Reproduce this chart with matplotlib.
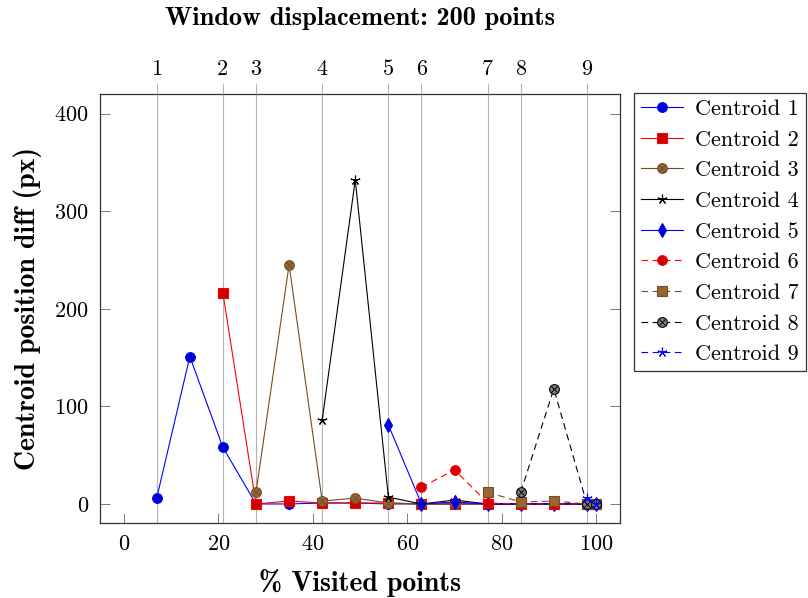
import numpy as np
import matplotlib.pyplot as plt
from matplotlib.legend_handler import HandlerTuple

# --- data ---
x_all = [7, 14, 21, 28, 35, 42, 49, 56, 63, 70, 77, 84, 91, 98, 100]

c1_y = [6, 151, 58, 0, 0, 1, 1, 0, 0, 0, 0, 0, 0, 0, 0]
c2_y = [216, 0, 3, 1, 1, 1, 0, 0, 0, 0, 0, 0, 0]
c3_y = [12, 245, 3, 6, 1, 0, 0, 0, 0, 0, 0, 0]
c4_y = [86, 332, 7, 0, 4, 0, 0, 0, 0, 0]
c5_y = [81, 0, 2, 0, 0, 0, 0, 0]
c6_y = [17, 35, 1, 0, 0, 0, 0]
c7_y = [12, 2, 3, 0, 0]
c8_y = [12, 118, 0, 0]
c9_y = [6, 0]

etykiety = ['Centroid %d' % i for i in range(1, 10)]

# top axis: window number at each displacement
okna_x = [7, 21, 28, 42, 56, 63, 77, 84, 98]
okna_lab = ['1', '2', '3', '4', '5', '6', '7', '8', '9']

x_ticks = [0, 20, 40, 60, 80, 100]
y_ticks = [0, 100, 200, 300, 400]

# pgfplots "color" cycle list
BLUE, BLUE_F = '#0000ff', '#0000cc'
RED, RED_F = '#ff0000', '#cc0000'
BROWN, BROWN_F = '#734d26', '#996633'

plt.rcParams['font.family'] = ['cmr10', 'DejaVu Serif']
plt.rcParams['axes.formatter.use_mathtext'] = True
plt.rcParams['font.size'] = 16

fig = plt.figure(figsize=(8.08, 5.98), dpi=100)
ax = fig.add_axes([100 / 808, 1 - 523 / 598, 520 / 808, 429 / 598])

ax.set_xlim(-5, 105)
ax.set_ylim(-19.5, 420)

# vertical grid at window positions (behind data)
ax.vlines(okna_x, -19.5, 420, colors='#b3b3b3', lw=0.8, zorder=0)

LW = 0.8
DASH = (0, (6, 4))
MS = 7


def seria(ys, kolor, fill, marker, ms=MS, ls='-', otimes=False, edge=None):
    xs = x_all[len(x_all) - len(ys):]
    l, = ax.plot(xs, ys, color=kolor, lw=LW, linestyle=ls, marker=marker,
                 markersize=ms, markerfacecolor=fill,
                 markeredgecolor=edge if edge else kolor, markeredgewidth=0.8)
    if otimes:
        k, = ax.plot(xs, ys, linestyle='none', marker='x', markersize=ms * 0.62,
                     markeredgecolor=edge if edge else kolor, markeredgewidth=0.7)
        return (l, k)
    return l


h = []
h.append(seria(c1_y, BLUE, BLUE_F, 'o'))
h.append(seria(c2_y, RED, RED_F, 's', ms=6.5))
h.append(seria(c3_y, BROWN, BROWN_F, 'o', otimes=True))
h.append(seria(c4_y, 'black', 'black', (5, 2), ms=7))
h.append(seria(c5_y, BLUE, BLUE_F, 'd', ms=7))
h.append(seria(c6_y, RED, RED_F, 'o', ls=DASH))
h.append(seria(c7_y, BROWN, BROWN_F, 's', ms=6.5, ls=DASH))
h.append(seria(c8_y, 'black', '#808080', 'o', ls=DASH, otimes=True, edge='black'))
h.append(seria(c9_y, BLUE, BLUE, (5, 2), ms=7, ls=DASH))

ax.set_xticks(x_ticks)
ax.set_yticks(y_ticks)
ax.tick_params(direction='in', length=7.5, width=0.6, color='#666666',
               top=True, right=True, pad=8)
for s in ax.spines.values():
    s.set_color('#333333')
    s.set_linewidth(0.9)

ax.set_xlabel('% Visited points', fontfamily='cmb10', fontsize=20, labelpad=11)
ax.set_ylabel('Centroid position diff (px)', fontfamily='cmb10', fontsize=20, labelpad=9)

# window numbers on top
ax2 = ax.twiny()
ax2.set_xlim(ax.get_xlim())
ax2.set_xticks(okna_x)
ax2.set_xticklabels(okna_lab)
ax2.tick_params(axis='x', direction='out', length=8, width=0.8, color='#b3b3b3', pad=3)
for s in ax2.spines.values():
    s.set_visible(False)

fig.text(360 / 808, 1 - 18 / 598, 'Window displacement: 200 points',
         fontfamily='cmb10', fontsize=19, ha='center', va='center')

leg = ax.legend(h, etykiety, handler_map={tuple: HandlerTuple(ndivide=1)},
                loc='upper left', bbox_to_anchor=(1.027, 1.003), borderaxespad=0,
                fancybox=False, framealpha=1, edgecolor='#333333',
                handlelength=1.9, handletextpad=0.55, labelspacing=0.5,
                borderpad=0.3, fontsize=16)
leg.get_frame().set_linewidth(0.9)

fig.savefig('out.png', dpi=100)
